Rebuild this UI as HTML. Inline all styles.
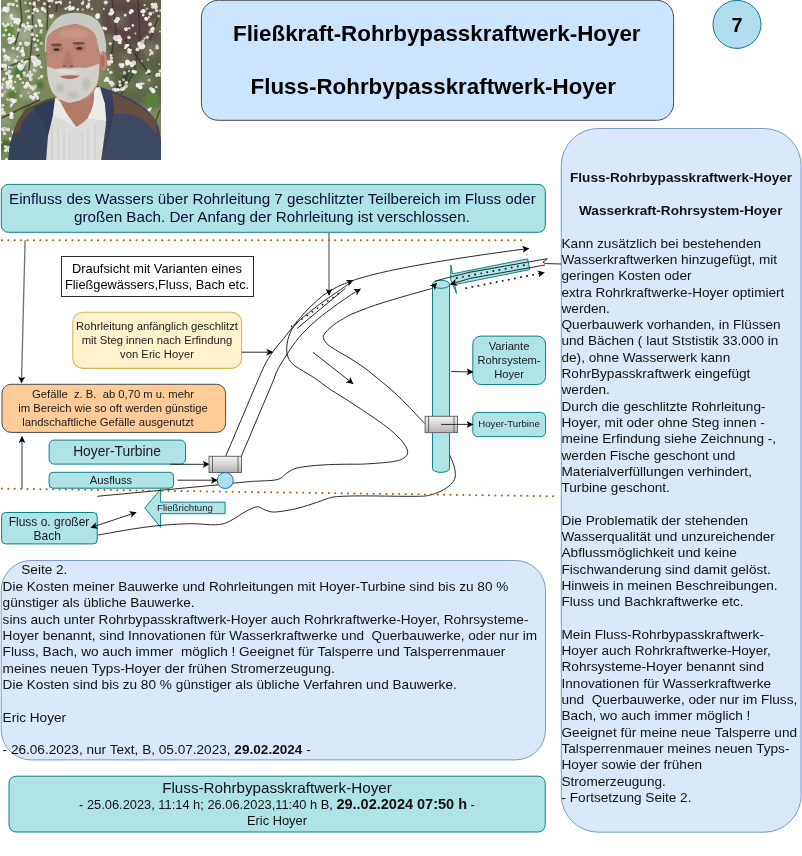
<!DOCTYPE html>
<html><head><meta charset="utf-8">
<style>
html,body{margin:0;padding:0;background:#fff;}
body{width:802px;height:856px;overflow:hidden;position:relative;}
svg{position:absolute;left:0;top:0;will-change:transform;}
text{font-family:"Liberation Sans",sans-serif;}
.pre{white-space:pre;}
</style></head>
<body>
<svg width="802" height="856" viewBox="0 0 802 856">
<defs>
<linearGradient id="tg" x1="0" y1="0" x2="0" y2="1">
<stop offset="0" stop-color="#f5f5f5"/><stop offset="1" stop-color="#b3b3b3"/>
</linearGradient>
<marker id="ah" viewBox="0 0 10 10" refX="9" refY="5" markerWidth="7" markerHeight="7" markerUnits="userSpaceOnUse" orient="auto-start-reverse">
<path d="M0,0 L10,5 L0,10 L2.5,5 Z" fill="#000"/>
</marker>
</defs>

<!-- PHOTO -->
<g id="photo"><defs><clipPath id="pc"><rect x="1" y="0" width="160" height="160"/></clipPath><filter id="b05" x="-20%" y="-20%" width="140%" height="140%"><feGaussianBlur stdDeviation="0.5"/></filter><filter id="b1" x="-20%" y="-20%" width="140%" height="140%"><feGaussianBlur stdDeviation="0.8"/></filter><filter id="b2" x="-20%" y="-20%" width="140%" height="140%"><feGaussianBlur stdDeviation="1.6"/></filter><filter id="b3" x="-20%" y="-20%" width="140%" height="140%"><feGaussianBlur stdDeviation="4"/></filter></defs>
<g clip-path="url(#pc)">
<rect x="1" y="0" width="160" height="160" fill="#7a8a5c"/>
<path d="M96,-5 H166 V105 H125 Q104,60 96,-5 Z" fill="#5e564a" filter="url(#b3)"/>
<path d="M30,-5 H100 V14 H30 Z" fill="#62584c" filter="url(#b3)"/>
<ellipse cx="128" cy="22" rx="26" ry="22" fill="#5c4446" filter="url(#b3)"/>
<ellipse cx="138" cy="82" rx="26" ry="18" fill="#5d6c44" filter="url(#b3)"/>
<circle cx="10" cy="20" r="9" fill="#a8b094" filter="url(#b3)"/>
<circle cx="25" cy="35" r="8" fill="#a8b094" filter="url(#b3)"/>
<circle cx="12" cy="60" r="8" fill="#a8b094" filter="url(#b3)"/>
<circle cx="30" cy="70" r="7" fill="#a8b094" filter="url(#b3)"/>
<circle cx="8" cy="90" r="7" fill="#a8b094" filter="url(#b3)"/>
<circle cx="28" cy="92" r="6" fill="#a8b094" filter="url(#b3)"/>
<circle cx="5" cy="120" r="5" fill="#a8b094" filter="url(#b3)"/>
<circle cx="40" cy="15" r="6" fill="#a8b094" filter="url(#b3)"/>
<circle cx="120" cy="20" r="6" fill="#7c8064" filter="url(#b3)"/>
<circle cx="150" cy="50" r="7" fill="#7c8064" filter="url(#b3)"/>
<circle cx="125" cy="60" r="6" fill="#7c8064" filter="url(#b3)"/>
<circle cx="145" cy="80" r="6" fill="#7c8064" filter="url(#b3)"/>
<circle cx="110" cy="40" r="5" fill="#7c8064" filter="url(#b3)"/>
<circle cx="155" cy="25" r="5" fill="#7c8064" filter="url(#b3)"/>
<circle cx="130" cy="85" r="5" fill="#7c8064" filter="url(#b3)"/>
<circle cx="8" cy="30" r="6" fill="#5c8a3a" filter="url(#b2)"/>
<circle cx="20" cy="72" r="6" fill="#4c7434" filter="url(#b2)"/>
<circle cx="30" cy="112" r="7" fill="#4a6c34" filter="url(#b2)"/>
<circle cx="12" cy="95" r="5" fill="#527a38" filter="url(#b2)"/>
<circle cx="152" cy="100" r="8" fill="#56803a" filter="url(#b2)"/>
<circle cx="124" cy="78" r="6" fill="#4e6e3a" filter="url(#b2)"/>
<circle cx="38" cy="40" r="5" fill="#587a3e" filter="url(#b2)"/>
<circle cx="6" cy="146" r="6" fill="#466a32" filter="url(#b2)"/>
<circle cx="150" cy="62" r="5" fill="#55683c" filter="url(#b2)"/>
<circle cx="140" cy="125" r="6" fill="#5a7d3c" filter="url(#b2)"/>
<circle cx="115" cy="100" r="5" fill="#4d6a38" filter="url(#b2)"/>
<circle cx="22" cy="130" r="4" fill="#4a6a34" filter="url(#b2)"/>
<circle cx="40" cy="85" r="4" fill="#4f7438" filter="url(#b2)"/>
<g stroke="#3a3226" fill="none" stroke-width="1.4" opacity="0.8" filter="url(#b05)"><path d="M138,0 L140,40 L134,72 L118,100"/><path d="M33,0 L32,40 L28,80"/><path d="M48,2 L47,30"/><path d="M0,70 L20,62 L40,55"/><path d="M2,118 L22,108 L40,100"/><path d="M150,40 L158,18"/><path d="M112,0 L116,30 L110,62"/><path d="M58,0 L56,12"/><path d="M20,0 L22,20 L15,45"/><path d="M148,140 L160,110"/><path d="M125,40 L150,75"/></g>
<path d="M128,70 Q124,85 110,95" stroke="#3f3a2a" stroke-width="5" fill="none" filter="url(#b1)"/>
<circle cx="6.7" cy="9.3" r="2.6" fill="#f6f4f2" filter="url(#b05)"/>
<circle cx="6.7" cy="10.9" r="1.8" fill="#f6f4f2" filter="url(#b05)"/>
<circle cx="7.7" cy="10.6" r="1.7" fill="#dedcd8" filter="url(#b05)"/>
<circle cx="5.1" cy="9.2" r="2.6" fill="#f2f2ee" filter="url(#b05)"/>
<circle cx="7.5" cy="8.4" r="2.1" fill="#e8e6e2" filter="url(#b05)"/>
<circle cx="17.7" cy="23.0" r="1.8" fill="#f2f2ee" filter="url(#b05)"/>
<circle cx="15.1" cy="19.5" r="1.8" fill="#f6f4f2" filter="url(#b05)"/>
<circle cx="16.0" cy="21.5" r="2.0" fill="#e8e6e2" filter="url(#b05)"/>
<circle cx="17.8" cy="21.0" r="2.6" fill="#f6f4f2" filter="url(#b05)"/>
<circle cx="17.9" cy="20.4" r="2.4" fill="#f2f2ee" filter="url(#b05)"/>
<circle cx="27.7" cy="26.3" r="1.2" fill="#dedcd8" filter="url(#b05)"/>
<circle cx="25.3" cy="27.2" r="1.1" fill="#f2f2ee" filter="url(#b05)"/>
<circle cx="28.2" cy="26.6" r="1.8" fill="#f2f2ee" filter="url(#b05)"/>
<circle cx="26.0" cy="28.5" r="1.1" fill="#f6f4f2" filter="url(#b05)"/>
<circle cx="28.7" cy="26.6" r="1.1" fill="#e8e6e2" filter="url(#b05)"/>
<circle cx="37.0" cy="9.2" r="1.1" fill="#dedcd8" filter="url(#b05)"/>
<circle cx="34.3" cy="9.7" r="1.7" fill="#e8e6e2" filter="url(#b05)"/>
<circle cx="35.1" cy="8.6" r="1.1" fill="#f6f4f2" filter="url(#b05)"/>
<circle cx="34.8" cy="10.2" r="1.4" fill="#e8e6e2" filter="url(#b05)"/>
<circle cx="37.7" cy="11.0" r="1.4" fill="#f6f4f2" filter="url(#b05)"/>
<circle cx="42.8" cy="9.8" r="1.0" fill="#dedcd8" filter="url(#b05)"/>
<circle cx="45.1" cy="11.4" r="1.2" fill="#f2f2ee" filter="url(#b05)"/>
<circle cx="43.1" cy="9.7" r="1.4" fill="#f2f2ee" filter="url(#b05)"/>
<circle cx="42.6" cy="8.9" r="1.2" fill="#f2f2ee" filter="url(#b05)"/>
<circle cx="44.8" cy="9.5" r="1.1" fill="#f2f2ee" filter="url(#b05)"/>
<circle cx="9.7" cy="39.4" r="2.3" fill="#f2f2ee" filter="url(#b05)"/>
<circle cx="12.5" cy="40.3" r="2.1" fill="#f6f4f2" filter="url(#b05)"/>
<circle cx="13.8" cy="39.0" r="2.0" fill="#e8e6e2" filter="url(#b05)"/>
<circle cx="11.0" cy="39.5" r="2.3" fill="#e8e6e2" filter="url(#b05)"/>
<circle cx="10.2" cy="41.7" r="2.2" fill="#f6f4f2" filter="url(#b05)"/>
<circle cx="28.4" cy="43.4" r="1.4" fill="#f2f2ee" filter="url(#b05)"/>
<circle cx="25.6" cy="43.0" r="1.2" fill="#f6f4f2" filter="url(#b05)"/>
<circle cx="26.1" cy="44.2" r="1.5" fill="#dedcd8" filter="url(#b05)"/>
<circle cx="27.1" cy="44.5" r="1.8" fill="#e8e6e2" filter="url(#b05)"/>
<circle cx="26.0" cy="43.2" r="1.7" fill="#f2f2ee" filter="url(#b05)"/>
<circle cx="35.4" cy="64.0" r="2.4" fill="#f2f2ee" filter="url(#b05)"/>
<circle cx="33.9" cy="60.4" r="2.5" fill="#f2f2ee" filter="url(#b05)"/>
<circle cx="34.7" cy="60.1" r="3.0" fill="#e8e6e2" filter="url(#b05)"/>
<circle cx="34.1" cy="58.4" r="2.8" fill="#dedcd8" filter="url(#b05)"/>
<circle cx="38.1" cy="62.4" r="3.0" fill="#e8e6e2" filter="url(#b05)"/>
<circle cx="7.4" cy="57.8" r="1.6" fill="#dedcd8" filter="url(#b05)"/>
<circle cx="7.8" cy="57.9" r="1.2" fill="#f2f2ee" filter="url(#b05)"/>
<circle cx="6.9" cy="57.0" r="1.5" fill="#f2f2ee" filter="url(#b05)"/>
<circle cx="5.2" cy="56.2" r="1.9" fill="#e8e6e2" filter="url(#b05)"/>
<circle cx="8.2" cy="57.7" r="1.5" fill="#f6f4f2" filter="url(#b05)"/>
<circle cx="21.9" cy="67.8" r="1.8" fill="#f2f2ee" filter="url(#b05)"/>
<circle cx="21.7" cy="66.3" r="2.0" fill="#f6f4f2" filter="url(#b05)"/>
<circle cx="19.4" cy="63.7" r="1.5" fill="#f2f2ee" filter="url(#b05)"/>
<circle cx="20.7" cy="68.4" r="2.3" fill="#dedcd8" filter="url(#b05)"/>
<circle cx="19.5" cy="67.1" r="2.0" fill="#f6f4f2" filter="url(#b05)"/>
<circle cx="9.8" cy="77.2" r="1.7" fill="#f2f2ee" filter="url(#b05)"/>
<circle cx="9.2" cy="75.3" r="1.2" fill="#f2f2ee" filter="url(#b05)"/>
<circle cx="10.0" cy="77.5" r="2.0" fill="#dedcd8" filter="url(#b05)"/>
<circle cx="11.7" cy="76.4" r="1.4" fill="#e8e6e2" filter="url(#b05)"/>
<circle cx="10.1" cy="78.1" r="1.5" fill="#f6f4f2" filter="url(#b05)"/>
<circle cx="29.0" cy="75.1" r="1.4" fill="#dedcd8" filter="url(#b05)"/>
<circle cx="27.9" cy="75.8" r="1.7" fill="#e8e6e2" filter="url(#b05)"/>
<circle cx="30.4" cy="75.6" r="1.5" fill="#dedcd8" filter="url(#b05)"/>
<circle cx="28.0" cy="74.7" r="1.3" fill="#f2f2ee" filter="url(#b05)"/>
<circle cx="29.8" cy="77.6" r="1.3" fill="#e8e6e2" filter="url(#b05)"/>
<circle cx="50.6" cy="15.9" r="1.7" fill="#f6f4f2" filter="url(#b05)"/>
<circle cx="51.6" cy="16.1" r="1.6" fill="#f6f4f2" filter="url(#b05)"/>
<circle cx="51.4" cy="17.2" r="1.3" fill="#f2f2ee" filter="url(#b05)"/>
<circle cx="52.6" cy="15.2" r="1.3" fill="#f2f2ee" filter="url(#b05)"/>
<circle cx="52.5" cy="15.7" r="1.2" fill="#dedcd8" filter="url(#b05)"/>
<circle cx="69.9" cy="6.5" r="1.3" fill="#f2f2ee" filter="url(#b05)"/>
<circle cx="70.8" cy="8.5" r="1.8" fill="#dedcd8" filter="url(#b05)"/>
<circle cx="72.9" cy="8.8" r="1.4" fill="#f6f4f2" filter="url(#b05)"/>
<circle cx="70.0" cy="8.9" r="1.9" fill="#f2f2ee" filter="url(#b05)"/>
<circle cx="69.7" cy="7.0" r="1.5" fill="#e8e6e2" filter="url(#b05)"/>
<circle cx="97.5" cy="16.4" r="2.3" fill="#f2f2ee" filter="url(#b05)"/>
<circle cx="97.6" cy="16.9" r="1.8" fill="#f6f4f2" filter="url(#b05)"/>
<circle cx="97.8" cy="15.6" r="2.3" fill="#f6f4f2" filter="url(#b05)"/>
<circle cx="98.2" cy="15.7" r="1.9" fill="#dedcd8" filter="url(#b05)"/>
<circle cx="97.8" cy="15.7" r="1.6" fill="#f2f2ee" filter="url(#b05)"/>
<circle cx="110.8" cy="13.7" r="2.1" fill="#dedcd8" filter="url(#b05)"/>
<circle cx="112.2" cy="13.2" r="1.5" fill="#f2f2ee" filter="url(#b05)"/>
<circle cx="111.4" cy="10.2" r="1.6" fill="#f6f4f2" filter="url(#b05)"/>
<circle cx="113.1" cy="11.9" r="1.2" fill="#f2f2ee" filter="url(#b05)"/>
<circle cx="111.7" cy="10.0" r="1.7" fill="#e8e6e2" filter="url(#b05)"/>
<circle cx="115.9" cy="21.1" r="2.0" fill="#f6f4f2" filter="url(#b05)"/>
<circle cx="117.9" cy="19.0" r="2.1" fill="#f2f2ee" filter="url(#b05)"/>
<circle cx="117.1" cy="18.7" r="1.7" fill="#e8e6e2" filter="url(#b05)"/>
<circle cx="116.1" cy="20.4" r="1.7" fill="#dedcd8" filter="url(#b05)"/>
<circle cx="116.7" cy="20.9" r="2.0" fill="#e8e6e2" filter="url(#b05)"/>
<circle cx="142.2" cy="11.5" r="1.7" fill="#dedcd8" filter="url(#b05)"/>
<circle cx="143.3" cy="11.7" r="1.7" fill="#f2f2ee" filter="url(#b05)"/>
<circle cx="143.4" cy="11.0" r="2.1" fill="#f6f4f2" filter="url(#b05)"/>
<circle cx="143.2" cy="15.1" r="1.3" fill="#f2f2ee" filter="url(#b05)"/>
<circle cx="143.8" cy="11.2" r="1.7" fill="#f6f4f2" filter="url(#b05)"/>
<circle cx="120.0" cy="42.4" r="1.8" fill="#e8e6e2" filter="url(#b05)"/>
<circle cx="117.9" cy="39.2" r="1.8" fill="#f6f4f2" filter="url(#b05)"/>
<circle cx="118.1" cy="39.1" r="1.8" fill="#f2f2ee" filter="url(#b05)"/>
<circle cx="120.0" cy="39.2" r="2.2" fill="#f2f2ee" filter="url(#b05)"/>
<circle cx="115.8" cy="39.3" r="1.4" fill="#dedcd8" filter="url(#b05)"/>
<circle cx="139.9" cy="44.1" r="2.5" fill="#f2f2ee" filter="url(#b05)"/>
<circle cx="141.0" cy="45.5" r="2.8" fill="#dedcd8" filter="url(#b05)"/>
<circle cx="142.3" cy="46.2" r="2.8" fill="#f2f2ee" filter="url(#b05)"/>
<circle cx="140.3" cy="44.5" r="2.4" fill="#e8e6e2" filter="url(#b05)"/>
<circle cx="141.2" cy="47.2" r="2.4" fill="#e8e6e2" filter="url(#b05)"/>
<circle cx="130.1" cy="52.3" r="1.5" fill="#e8e6e2" filter="url(#b05)"/>
<circle cx="129.0" cy="51.9" r="1.7" fill="#e8e6e2" filter="url(#b05)"/>
<circle cx="129.3" cy="50.3" r="1.7" fill="#e8e6e2" filter="url(#b05)"/>
<circle cx="131.0" cy="49.9" r="1.1" fill="#e8e6e2" filter="url(#b05)"/>
<circle cx="128.7" cy="49.5" r="1.3" fill="#f6f4f2" filter="url(#b05)"/>
<circle cx="111.4" cy="61.7" r="1.9" fill="#e8e6e2" filter="url(#b05)"/>
<circle cx="108.7" cy="62.5" r="1.9" fill="#f2f2ee" filter="url(#b05)"/>
<circle cx="108.7" cy="62.8" r="2.0" fill="#dedcd8" filter="url(#b05)"/>
<circle cx="108.4" cy="62.0" r="1.9" fill="#e8e6e2" filter="url(#b05)"/>
<circle cx="111.3" cy="61.9" r="1.2" fill="#f6f4f2" filter="url(#b05)"/>
<circle cx="127.1" cy="61.3" r="1.8" fill="#e8e6e2" filter="url(#b05)"/>
<circle cx="131.6" cy="65.3" r="1.7" fill="#f2f2ee" filter="url(#b05)"/>
<circle cx="127.0" cy="64.0" r="1.7" fill="#f2f2ee" filter="url(#b05)"/>
<circle cx="128.1" cy="62.8" r="2.2" fill="#f6f4f2" filter="url(#b05)"/>
<circle cx="127.4" cy="62.3" r="2.3" fill="#f2f2ee" filter="url(#b05)"/>
<circle cx="135.2" cy="71.9" r="1.4" fill="#dedcd8" filter="url(#b05)"/>
<circle cx="133.7" cy="71.9" r="1.2" fill="#f2f2ee" filter="url(#b05)"/>
<circle cx="133.4" cy="71.5" r="1.7" fill="#f6f4f2" filter="url(#b05)"/>
<circle cx="134.3" cy="71.9" r="1.5" fill="#dedcd8" filter="url(#b05)"/>
<circle cx="135.1" cy="72.1" r="1.7" fill="#e8e6e2" filter="url(#b05)"/>
<circle cx="155.3" cy="4.6" r="2.0" fill="#dedcd8" filter="url(#b05)"/>
<circle cx="155.1" cy="6.1" r="1.6" fill="#e8e6e2" filter="url(#b05)"/>
<circle cx="152.2" cy="4.3" r="1.6" fill="#f2f2ee" filter="url(#b05)"/>
<circle cx="155.6" cy="7.1" r="2.0" fill="#f2f2ee" filter="url(#b05)"/>
<circle cx="152.9" cy="6.9" r="1.8" fill="#dedcd8" filter="url(#b05)"/>
<circle cx="7.3" cy="82.4" r="2.0" fill="#f2f2ee" filter="url(#b05)"/>
<circle cx="8.3" cy="86.0" r="2.6" fill="#f2f2ee" filter="url(#b05)"/>
<circle cx="10.6" cy="85.9" r="1.8" fill="#f2f2ee" filter="url(#b05)"/>
<circle cx="10.4" cy="81.5" r="2.3" fill="#f2f2ee" filter="url(#b05)"/>
<circle cx="10.6" cy="83.9" r="1.8" fill="#dedcd8" filter="url(#b05)"/>
<circle cx="25.0" cy="86.7" r="1.7" fill="#f6f4f2" filter="url(#b05)"/>
<circle cx="28.0" cy="85.3" r="2.1" fill="#f6f4f2" filter="url(#b05)"/>
<circle cx="27.3" cy="83.2" r="1.7" fill="#f2f2ee" filter="url(#b05)"/>
<circle cx="25.5" cy="86.8" r="1.6" fill="#e8e6e2" filter="url(#b05)"/>
<circle cx="27.5" cy="85.2" r="1.7" fill="#f6f4f2" filter="url(#b05)"/>
<circle cx="15.1" cy="100.6" r="1.9" fill="#dedcd8" filter="url(#b05)"/>
<circle cx="12.4" cy="100.0" r="2.1" fill="#dedcd8" filter="url(#b05)"/>
<circle cx="13.8" cy="102.2" r="1.4" fill="#e8e6e2" filter="url(#b05)"/>
<circle cx="13.4" cy="101.6" r="1.8" fill="#f6f4f2" filter="url(#b05)"/>
<circle cx="10.9" cy="100.1" r="1.8" fill="#dedcd8" filter="url(#b05)"/>
<circle cx="33.0" cy="97.9" r="1.8" fill="#f6f4f2" filter="url(#b05)"/>
<circle cx="33.8" cy="97.2" r="1.4" fill="#f2f2ee" filter="url(#b05)"/>
<circle cx="37.1" cy="97.1" r="1.9" fill="#e8e6e2" filter="url(#b05)"/>
<circle cx="35.5" cy="94.2" r="2.0" fill="#f6f4f2" filter="url(#b05)"/>
<circle cx="33.2" cy="97.7" r="1.8" fill="#e8e6e2" filter="url(#b05)"/>
<circle cx="1.6" cy="112.8" r="1.6" fill="#f6f4f2" filter="url(#b05)"/>
<circle cx="3.4" cy="113.5" r="1.6" fill="#dedcd8" filter="url(#b05)"/>
<circle cx="4.0" cy="113.1" r="1.8" fill="#dedcd8" filter="url(#b05)"/>
<circle cx="3.8" cy="112.1" r="1.1" fill="#dedcd8" filter="url(#b05)"/>
<circle cx="4.0" cy="113.4" r="1.3" fill="#dedcd8" filter="url(#b05)"/>
<circle cx="11.5" cy="117.1" r="2.1" fill="#e8e6e2" filter="url(#b05)"/>
<circle cx="11.6" cy="117.2" r="1.6" fill="#e8e6e2" filter="url(#b05)"/>
<circle cx="11.0" cy="116.7" r="1.6" fill="#f2f2ee" filter="url(#b05)"/>
<circle cx="11.6" cy="113.6" r="1.7" fill="#f2f2ee" filter="url(#b05)"/>
<circle cx="11.6" cy="114.1" r="1.9" fill="#f2f2ee" filter="url(#b05)"/>
<circle cx="3.9" cy="130.5" r="1.2" fill="#e8e6e2" filter="url(#b05)"/>
<circle cx="3.5" cy="128.5" r="1.4" fill="#e8e6e2" filter="url(#b05)"/>
<circle cx="2.4" cy="129.0" r="1.2" fill="#f2f2ee" filter="url(#b05)"/>
<circle cx="4.1" cy="128.8" r="1.7" fill="#e8e6e2" filter="url(#b05)"/>
<circle cx="2.8" cy="129.9" r="1.3" fill="#e8e6e2" filter="url(#b05)"/>
<circle cx="13.6" cy="133.5" r="1.5" fill="#dedcd8" filter="url(#b05)"/>
<circle cx="13.4" cy="133.8" r="1.4" fill="#e8e6e2" filter="url(#b05)"/>
<circle cx="13.8" cy="132.6" r="0.9" fill="#dedcd8" filter="url(#b05)"/>
<circle cx="12.7" cy="131.7" r="1.2" fill="#f6f4f2" filter="url(#b05)"/>
<circle cx="14.9" cy="132.9" r="1.4" fill="#f2f2ee" filter="url(#b05)"/>
<circle cx="110.2" cy="82.8" r="1.8" fill="#f2f2ee" filter="url(#b05)"/>
<circle cx="112.8" cy="84.0" r="1.9" fill="#dedcd8" filter="url(#b05)"/>
<circle cx="111.1" cy="82.5" r="1.5" fill="#dedcd8" filter="url(#b05)"/>
<circle cx="111.4" cy="82.4" r="1.8" fill="#dedcd8" filter="url(#b05)"/>
<circle cx="111.7" cy="85.3" r="1.5" fill="#dedcd8" filter="url(#b05)"/>
<circle cx="122.0" cy="89.7" r="1.6" fill="#e8e6e2" filter="url(#b05)"/>
<circle cx="121.5" cy="89.2" r="1.1" fill="#f6f4f2" filter="url(#b05)"/>
<circle cx="123.3" cy="89.1" r="1.6" fill="#dedcd8" filter="url(#b05)"/>
<circle cx="124.1" cy="88.1" r="1.7" fill="#e8e6e2" filter="url(#b05)"/>
<circle cx="121.8" cy="88.9" r="1.7" fill="#dedcd8" filter="url(#b05)"/>
<circle cx="141.5" cy="83.7" r="1.5" fill="#e8e6e2" filter="url(#b05)"/>
<circle cx="140.3" cy="87.2" r="2.1" fill="#f6f4f2" filter="url(#b05)"/>
<circle cx="137.9" cy="85.2" r="2.2" fill="#f2f2ee" filter="url(#b05)"/>
<circle cx="139.2" cy="83.9" r="1.5" fill="#dedcd8" filter="url(#b05)"/>
<circle cx="138.0" cy="85.6" r="1.5" fill="#f6f4f2" filter="url(#b05)"/>
<circle cx="150.9" cy="88.8" r="1.9" fill="#dedcd8" filter="url(#b05)"/>
<circle cx="153.1" cy="89.6" r="1.5" fill="#dedcd8" filter="url(#b05)"/>
<circle cx="152.7" cy="90.0" r="1.7" fill="#f2f2ee" filter="url(#b05)"/>
<circle cx="152.9" cy="91.7" r="1.6" fill="#dedcd8" filter="url(#b05)"/>
<circle cx="153.5" cy="91.3" r="2.0" fill="#f6f4f2" filter="url(#b05)"/>
<circle cx="159.4" cy="75.4" r="1.2" fill="#f2f2ee" filter="url(#b05)"/>
<circle cx="158.9" cy="74.8" r="1.1" fill="#e8e6e2" filter="url(#b05)"/>
<circle cx="157.2" cy="74.0" r="1.3" fill="#e8e6e2" filter="url(#b05)"/>
<circle cx="157.5" cy="74.7" r="1.2" fill="#dedcd8" filter="url(#b05)"/>
<circle cx="159.4" cy="73.7" r="1.1" fill="#f2f2ee" filter="url(#b05)"/>
<circle cx="125.4" cy="29.0" r="1.4" fill="#f2f2ee" filter="url(#b05)"/>
<circle cx="126.8" cy="28.6" r="1.2" fill="#f2f2ee" filter="url(#b05)"/>
<circle cx="125.4" cy="29.1" r="1.1" fill="#e8e6e2" filter="url(#b05)"/>
<circle cx="126.3" cy="29.9" r="1.2" fill="#f6f4f2" filter="url(#b05)"/>
<circle cx="125.1" cy="29.3" r="1.0" fill="#dedcd8" filter="url(#b05)"/>
<circle cx="152.5" cy="31.6" r="1.5" fill="#dedcd8" filter="url(#b05)"/>
<circle cx="151.9" cy="29.6" r="1.8" fill="#f2f2ee" filter="url(#b05)"/>
<circle cx="151.9" cy="29.0" r="1.1" fill="#e8e6e2" filter="url(#b05)"/>
<circle cx="153.1" cy="29.6" r="1.4" fill="#dedcd8" filter="url(#b05)"/>
<circle cx="153.0" cy="28.4" r="1.7" fill="#f2f2ee" filter="url(#b05)"/>
<circle cx="89.1" cy="6.2" r="1.2" fill="#e8e6e2" filter="url(#b05)"/>
<circle cx="88.6" cy="5.3" r="1.0" fill="#e8e6e2" filter="url(#b05)"/>
<circle cx="88.8" cy="3.9" r="1.4" fill="#e8e6e2" filter="url(#b05)"/>
<circle cx="88.4" cy="6.5" r="1.0" fill="#f2f2ee" filter="url(#b05)"/>
<circle cx="87.0" cy="5.8" r="0.9" fill="#e8e6e2" filter="url(#b05)"/>
<circle cx="61.0" cy="1.7" r="1.0" fill="#f2f2ee" filter="url(#b05)"/>
<circle cx="61.2" cy="3.6" r="0.9" fill="#dedcd8" filter="url(#b05)"/>
<circle cx="58.6" cy="2.1" r="1.0" fill="#f2f2ee" filter="url(#b05)"/>
<circle cx="60.8" cy="2.8" r="0.9" fill="#f6f4f2" filter="url(#b05)"/>
<circle cx="60.1" cy="2.0" r="1.4" fill="#dedcd8" filter="url(#b05)"/>
<circle cx="149.4" cy="109.7" r="1.2" fill="#f6f4f2" filter="url(#b05)"/>
<circle cx="150.5" cy="108.7" r="0.9" fill="#e8e6e2" filter="url(#b05)"/>
<circle cx="148.8" cy="109.7" r="1.2" fill="#f2f2ee" filter="url(#b05)"/>
<circle cx="150.5" cy="108.5" r="1.1" fill="#f6f4f2" filter="url(#b05)"/>
<circle cx="149.2" cy="110.2" r="1.2" fill="#f2f2ee" filter="url(#b05)"/>
<circle cx="9.1" cy="151.0" r="1.3" fill="#e8e6e2" filter="url(#b05)"/>
<circle cx="7.4" cy="149.6" r="1.2" fill="#dedcd8" filter="url(#b05)"/>
<circle cx="9.4" cy="150.8" r="1.2" fill="#f2f2ee" filter="url(#b05)"/>
<circle cx="7.3" cy="149.1" r="1.3" fill="#dedcd8" filter="url(#b05)"/>
<circle cx="7.4" cy="149.3" r="1.2" fill="#dedcd8" filter="url(#b05)"/>
<circle cx="39.8" cy="21.6" r="0.9" fill="#f2f2ee" filter="url(#b05)"/>
<circle cx="38.9" cy="22.4" r="1.0" fill="#e8e6e2" filter="url(#b05)"/>
<circle cx="39.7" cy="23.0" r="1.2" fill="#f2f2ee" filter="url(#b05)"/>
<circle cx="38.8" cy="20.6" r="1.5" fill="#f6f4f2" filter="url(#b05)"/>
<circle cx="39.7" cy="20.7" r="1.5" fill="#f6f4f2" filter="url(#b05)"/>
<circle cx="5.5" cy="64.7" r="1.2" fill="#e8e6e2" filter="url(#b05)"/>
<circle cx="5.2" cy="65.6" r="1.3" fill="#f6f4f2" filter="url(#b05)"/>
<circle cx="4.4" cy="66.8" r="1.5" fill="#dedcd8" filter="url(#b05)"/>
<circle cx="5.7" cy="67.0" r="1.5" fill="#f2f2ee" filter="url(#b05)"/>
<circle cx="3.1" cy="64.9" r="1.3" fill="#f6f4f2" filter="url(#b05)"/>
<circle cx="20.6" cy="51.6" r="1.4" fill="#dedcd8" filter="url(#b05)"/>
<circle cx="23.2" cy="52.4" r="1.2" fill="#dedcd8" filter="url(#b05)"/>
<circle cx="22.2" cy="51.5" r="1.4" fill="#e8e6e2" filter="url(#b05)"/>
<circle cx="22.3" cy="50.9" r="1.8" fill="#e8e6e2" filter="url(#b05)"/>
<circle cx="22.2" cy="50.3" r="1.5" fill="#f2f2ee" filter="url(#b05)"/>
<circle cx="115.3" cy="36.9" r="1.8" fill="#dedcd8" filter="url(#b05)"/>
<circle cx="116.2" cy="39.1" r="1.8" fill="#f6f4f2" filter="url(#b05)"/>
<circle cx="118.8" cy="36.8" r="2.1" fill="#e8e6e2" filter="url(#b05)"/>
<circle cx="118.9" cy="37.2" r="2.0" fill="#dedcd8" filter="url(#b05)"/>
<circle cx="115.4" cy="38.2" r="2.3" fill="#dedcd8" filter="url(#b05)"/>
<circle cx="131.4" cy="10.6" r="1.7" fill="#dedcd8" filter="url(#b05)"/>
<circle cx="131.7" cy="11.5" r="1.6" fill="#dedcd8" filter="url(#b05)"/>
<circle cx="132.2" cy="10.9" r="1.5" fill="#f2f2ee" filter="url(#b05)"/>
<circle cx="130.8" cy="11.7" r="1.6" fill="#e8e6e2" filter="url(#b05)"/>
<circle cx="130.3" cy="12.6" r="1.6" fill="#f6f4f2" filter="url(#b05)"/>
<circle cx="105.4" cy="28.5" r="1.6" fill="#e8e6e2" filter="url(#b05)"/>
<circle cx="103.9" cy="27.9" r="1.2" fill="#f6f4f2" filter="url(#b05)"/>
<circle cx="103.6" cy="27.7" r="1.3" fill="#e8e6e2" filter="url(#b05)"/>
<circle cx="104.1" cy="28.2" r="1.3" fill="#f2f2ee" filter="url(#b05)"/>
<circle cx="105.8" cy="29.0" r="1.4" fill="#f6f4f2" filter="url(#b05)"/>
<circle cx="121.4" cy="65.9" r="1.6" fill="#f6f4f2" filter="url(#b05)"/>
<circle cx="122.1" cy="65.9" r="2.1" fill="#f6f4f2" filter="url(#b05)"/>
<circle cx="122.4" cy="64.4" r="1.3" fill="#dedcd8" filter="url(#b05)"/>
<circle cx="121.1" cy="65.7" r="2.0" fill="#dedcd8" filter="url(#b05)"/>
<circle cx="122.7" cy="65.1" r="1.8" fill="#f6f4f2" filter="url(#b05)"/>
<circle cx="134.0" cy="62.4" r="1.9" fill="#dedcd8" filter="url(#b05)"/>
<circle cx="134.6" cy="63.6" r="1.4" fill="#f6f4f2" filter="url(#b05)"/>
<circle cx="131.9" cy="63.6" r="2.1" fill="#f6f4f2" filter="url(#b05)"/>
<circle cx="133.8" cy="62.1" r="1.4" fill="#dedcd8" filter="url(#b05)"/>
<circle cx="133.7" cy="63.8" r="2.0" fill="#dedcd8" filter="url(#b05)"/>
<circle cx="118.3" cy="89.7" r="1.7" fill="#e8e6e2" filter="url(#b05)"/>
<circle cx="117.5" cy="89.7" r="1.1" fill="#f2f2ee" filter="url(#b05)"/>
<circle cx="115.6" cy="91.1" r="1.1" fill="#f6f4f2" filter="url(#b05)"/>
<circle cx="115.2" cy="89.1" r="1.3" fill="#dedcd8" filter="url(#b05)"/>
<circle cx="115.8" cy="89.8" r="1.4" fill="#f6f4f2" filter="url(#b05)"/>
<circle cx="148.7" cy="70.7" r="1.2" fill="#dedcd8" filter="url(#b05)"/>
<circle cx="148.3" cy="71.4" r="1.3" fill="#f6f4f2" filter="url(#b05)"/>
<circle cx="148.7" cy="71.0" r="1.6" fill="#e8e6e2" filter="url(#b05)"/>
<circle cx="148.9" cy="71.3" r="1.6" fill="#f2f2ee" filter="url(#b05)"/>
<circle cx="148.9" cy="71.2" r="1.3" fill="#f6f4f2" filter="url(#b05)"/>
<circle cx="105.3" cy="80.5" r="1.6" fill="#e8e6e2" filter="url(#b05)"/>
<circle cx="107.1" cy="79.1" r="1.8" fill="#f2f2ee" filter="url(#b05)"/>
<circle cx="107.5" cy="79.3" r="1.7" fill="#dedcd8" filter="url(#b05)"/>
<circle cx="108.3" cy="80.8" r="1.2" fill="#f6f4f2" filter="url(#b05)"/>
<circle cx="106.7" cy="78.8" r="1.7" fill="#f2f2ee" filter="url(#b05)"/>
<circle cx="146.8" cy="18.9" r="1.2" fill="#e8e6e2" filter="url(#b05)"/>
<circle cx="146.0" cy="19.3" r="1.3" fill="#f2f2ee" filter="url(#b05)"/>
<circle cx="146.3" cy="19.0" r="1.3" fill="#e8e6e2" filter="url(#b05)"/>
<circle cx="146.6" cy="19.2" r="1.5" fill="#f2f2ee" filter="url(#b05)"/>
<circle cx="145.9" cy="18.5" r="1.7" fill="#f2f2ee" filter="url(#b05)"/>
<circle cx="126.1" cy="45.4" r="1.5" fill="#dedcd8" filter="url(#b05)"/>
<circle cx="126.1" cy="46.7" r="1.5" fill="#e8e6e2" filter="url(#b05)"/>
<circle cx="125.2" cy="47.9" r="1.2" fill="#dedcd8" filter="url(#b05)"/>
<circle cx="126.8" cy="45.3" r="1.6" fill="#e8e6e2" filter="url(#b05)"/>
<circle cx="127.8" cy="45.3" r="1.4" fill="#f6f4f2" filter="url(#b05)"/>
<circle cx="1.4" cy="142.6" r="1.0" fill="#f0f0ec" opacity="0.9"/>
<circle cx="126.3" cy="82.7" r="1.8" fill="#eae8e4" opacity="0.9"/>
<circle cx="120.1" cy="85.1" r="1.7" fill="#f0f0ec" opacity="0.9"/>
<circle cx="38.8" cy="78.3" r="1.1" fill="#eae8e4" opacity="0.9"/>
<circle cx="9.4" cy="71.7" r="1.9" fill="#e6e4e0" opacity="0.9"/>
<circle cx="25.3" cy="2.8" r="1.4" fill="#c8ccc0" opacity="0.9"/>
<circle cx="123.4" cy="79.7" r="1.5" fill="#c8ccc0" opacity="0.9"/>
<circle cx="41.8" cy="25.6" r="1.7" fill="#eae8e4" opacity="0.9"/>
<circle cx="156.3" cy="6.7" r="1.7" fill="#dcdcd6" opacity="0.9"/>
<circle cx="24.1" cy="72.9" r="1.7" fill="#f0f0ec" opacity="0.9"/>
<circle cx="1.5" cy="65.6" r="1.5" fill="#f0f0ec" opacity="0.9"/>
<circle cx="6.5" cy="159.4" r="1.7" fill="#eae8e4" opacity="0.9"/>
<circle cx="37.8" cy="40.5" r="1.5" fill="#dcdcd6" opacity="0.9"/>
<circle cx="37.4" cy="49.4" r="1.9" fill="#eae8e4" opacity="0.9"/>
<circle cx="35.9" cy="25.7" r="1.5" fill="#f0f0ec" opacity="0.9"/>
<circle cx="8.9" cy="67.0" r="1.2" fill="#eae8e4" opacity="0.9"/>
<circle cx="68.1" cy="7.5" r="1.2" fill="#e6e4e0" opacity="0.9"/>
<circle cx="119.7" cy="81.9" r="1.6" fill="#dcdcd6" opacity="0.9"/>
<circle cx="4.3" cy="51.5" r="1.3" fill="#f0f0ec" opacity="0.9"/>
<circle cx="34.4" cy="65.7" r="1.4" fill="#dcdcd6" opacity="0.9"/>
<circle cx="22.9" cy="82.7" r="1.3" fill="#f0f0ec" opacity="0.9"/>
<circle cx="35.5" cy="6.5" r="0.9" fill="#c8ccc0" opacity="0.9"/>
<circle cx="157.1" cy="47.7" r="1.9" fill="#dcdcd6" opacity="0.9"/>
<circle cx="20.2" cy="78.9" r="1.4" fill="#e6e4e0" opacity="0.9"/>
<circle cx="137.5" cy="49.4" r="1.9" fill="#f0f0ec" opacity="0.9"/>
<circle cx="65.7" cy="8.7" r="1.4" fill="#eae8e4" opacity="0.9"/>
<circle cx="144.6" cy="5.0" r="1.1" fill="#f0f0ec" opacity="0.9"/>
<circle cx="141.8" cy="61.1" r="0.9" fill="#dcdcd6" opacity="0.9"/>
<circle cx="110.3" cy="43.7" r="1.4" fill="#f0f0ec" opacity="0.9"/>
<circle cx="25.0" cy="30.8" r="1.2" fill="#dcdcd6" opacity="0.9"/>
<circle cx="38.5" cy="0.1" r="1.5" fill="#c8ccc0" opacity="0.9"/>
<circle cx="1.6" cy="87.5" r="1.8" fill="#eae8e4" opacity="0.9"/>
<circle cx="4.1" cy="128.9" r="1.1" fill="#c8ccc0" opacity="0.9"/>
<circle cx="132.9" cy="25.5" r="1.4" fill="#eae8e4" opacity="0.9"/>
<circle cx="7.5" cy="99.5" r="1.4" fill="#c8ccc0" opacity="0.9"/>
<circle cx="9.6" cy="40.6" r="1.5" fill="#c8ccc0" opacity="0.9"/>
<circle cx="33.8" cy="90.2" r="1.0" fill="#c8ccc0" opacity="0.9"/>
<circle cx="33.1" cy="99.4" r="1.2" fill="#dcdcd6" opacity="0.9"/>
<circle cx="156.8" cy="75.5" r="1.8" fill="#dcdcd6" opacity="0.9"/>
<circle cx="23.2" cy="25.2" r="2.0" fill="#f0f0ec" opacity="0.9"/>
<circle cx="32.0" cy="57.0" r="1.5" fill="#f0f0ec" opacity="0.9"/>
<circle cx="28.4" cy="10.8" r="1.4" fill="#e6e4e0" opacity="0.9"/>
<circle cx="35.7" cy="45.2" r="1.9" fill="#c8ccc0" opacity="0.9"/>
<circle cx="29.0" cy="17.1" r="1.9" fill="#e6e4e0" opacity="0.9"/>
<circle cx="142.5" cy="43.2" r="1.2" fill="#c8ccc0" opacity="0.9"/>
<circle cx="42.5" cy="8.2" r="1.0" fill="#e6e4e0" opacity="0.9"/>
<circle cx="41.4" cy="30.2" r="1.2" fill="#dcdcd6" opacity="0.9"/>
<circle cx="160.1" cy="70.9" r="1.7" fill="#dcdcd6" opacity="0.9"/>
<circle cx="44.4" cy="3.8" r="1.5" fill="#f0f0ec" opacity="0.9"/>
<circle cx="83.3" cy="1.7" r="1.1" fill="#e6e4e0" opacity="0.9"/>
<circle cx="2.8" cy="84.4" r="1.8" fill="#c8ccc0" opacity="0.9"/>
<circle cx="158.8" cy="16.1" r="1.3" fill="#c8ccc0" opacity="0.9"/>
<circle cx="4.8" cy="92.3" r="1.1" fill="#c8ccc0" opacity="0.9"/>
<circle cx="11.7" cy="104.5" r="1.6" fill="#e6e4e0" opacity="0.9"/>
<circle cx="29.4" cy="16.9" r="1.1" fill="#e6e4e0" opacity="0.9"/>
<circle cx="30.2" cy="3.5" r="1.3" fill="#f0f0ec" opacity="0.9"/>
<circle cx="36.1" cy="65.3" r="1.7" fill="#dcdcd6" opacity="0.9"/>
<circle cx="146.8" cy="8.8" r="1.3" fill="#c8ccc0" opacity="0.9"/>
<circle cx="111.4" cy="72.5" r="1.4" fill="#c8ccc0" opacity="0.9"/>
<circle cx="87.6" cy="6.8" r="1.9" fill="#eae8e4" opacity="0.9"/>
<circle cx="150.1" cy="24.3" r="2.0" fill="#eae8e4" opacity="0.9"/>
<circle cx="159.3" cy="64.3" r="1.0" fill="#c8ccc0" opacity="0.9"/>
<circle cx="18.8" cy="29.9" r="1.9" fill="#dcdcd6" opacity="0.9"/>
<circle cx="11.4" cy="139.2" r="1.7" fill="#e6e4e0" opacity="0.9"/>
<circle cx="34.2" cy="2.3" r="1.4" fill="#c8ccc0" opacity="0.9"/>
<circle cx="12.8" cy="88.8" r="1.8" fill="#c8ccc0" opacity="0.9"/>
<circle cx="141.3" cy="11.5" r="1.0" fill="#eae8e4" opacity="0.9"/>
<circle cx="156.6" cy="10.5" r="1.8" fill="#dcdcd6" opacity="0.9"/>
<circle cx="17.1" cy="5.9" r="1.3" fill="#dcdcd6" opacity="0.9"/>
<circle cx="69.9" cy="2.5" r="1.3" fill="#e6e4e0" opacity="0.9"/>
<circle cx="28.4" cy="92.9" r="0.9" fill="#e6e4e0" opacity="0.9"/>
<circle cx="132.2" cy="65.4" r="1.5" fill="#f0f0ec" opacity="0.9"/>
<circle cx="38.6" cy="92.7" r="1.2" fill="#e6e4e0" opacity="0.9"/>
<circle cx="153.3" cy="12.5" r="1.1" fill="#c8ccc0" opacity="0.9"/>
<circle cx="11.3" cy="67.1" r="1.2" fill="#c8ccc0" opacity="0.9"/>
<circle cx="106.9" cy="2.0" r="0.9" fill="#e6e4e0" opacity="0.9"/>
<circle cx="41.3" cy="67.3" r="1.3" fill="#eae8e4" opacity="0.9"/>
<circle cx="25.9" cy="11.6" r="1.1" fill="#eae8e4" opacity="0.9"/>
<circle cx="160.6" cy="10.6" r="1.3" fill="#dcdcd6" opacity="0.9"/>
<circle cx="128.1" cy="0.6" r="1.7" fill="#e6e4e0" opacity="0.9"/>
<circle cx="18.4" cy="66.1" r="1.5" fill="#f0f0ec" opacity="0.9"/>
<circle cx="125.2" cy="15.1" r="1.5" fill="#f0f0ec" opacity="0.9"/>
<circle cx="15.1" cy="82.0" r="1.2" fill="#dcdcd6" opacity="0.9"/>
<circle cx="40.5" cy="66.2" r="1.0" fill="#dcdcd6" opacity="0.9"/>
<circle cx="17.7" cy="22.0" r="1.9" fill="#eae8e4" opacity="0.9"/>
<circle cx="26.0" cy="85.0" r="0.9" fill="#f0f0ec" opacity="0.9"/>
<circle cx="35.3" cy="85.9" r="1.6" fill="#c8ccc0" opacity="0.9"/>
<circle cx="73.1" cy="7.9" r="1.8" fill="#f0f0ec" opacity="0.9"/>
<circle cx="27.1" cy="61.1" r="1.3" fill="#dcdcd6" opacity="0.9"/>
<circle cx="6.2" cy="57.5" r="1.9" fill="#eae8e4" opacity="0.9"/>
<circle cx="2.1" cy="94.9" r="2.0" fill="#e6e4e0" opacity="0.9"/>
<circle cx="135.4" cy="33.6" r="1.0" fill="#dcdcd6" opacity="0.9"/>
<circle cx="41.3" cy="43.2" r="1.8" fill="#c8ccc0" opacity="0.9"/>
<circle cx="15.4" cy="91.6" r="1.0" fill="#c8ccc0" opacity="0.9"/>
<circle cx="103.8" cy="9.1" r="1.0" fill="#eae8e4" opacity="0.9"/>
<circle cx="14.4" cy="22.2" r="1.3" fill="#f0f0ec" opacity="0.9"/>
<circle cx="34.8" cy="87.5" r="1.8" fill="#c8ccc0" opacity="0.9"/>
<circle cx="12.4" cy="18.5" r="1.8" fill="#eae8e4" opacity="0.9"/>
<circle cx="25.8" cy="43.8" r="1.3" fill="#c8ccc0" opacity="0.9"/>
<circle cx="149.9" cy="32.0" r="1.4" fill="#c8ccc0" opacity="0.9"/>
<circle cx="111.3" cy="62.1" r="1.0" fill="#dcdcd6" opacity="0.9"/>
<circle cx="110.4" cy="72.4" r="1.4" fill="#eae8e4" opacity="0.9"/>
<circle cx="8.2" cy="147.5" r="1.8" fill="#e6e4e0" opacity="0.9"/>
<circle cx="146.5" cy="72.9" r="1.2" fill="#eae8e4" opacity="0.9"/>
<circle cx="17.4" cy="49.0" r="1.8" fill="#f0f0ec" opacity="0.9"/>
<circle cx="40.5" cy="25.0" r="2.0" fill="#eae8e4" opacity="0.9"/>
<circle cx="31.4" cy="26.9" r="2.0" fill="#e6e4e0" opacity="0.9"/>
<circle cx="111.3" cy="58.2" r="1.7" fill="#e6e4e0" opacity="0.9"/>
<circle cx="13.1" cy="4.6" r="1.8" fill="#eae8e4" opacity="0.9"/>
<circle cx="25.3" cy="62.3" r="1.8" fill="#eae8e4" opacity="0.9"/>
<circle cx="42.6" cy="8.7" r="1.9" fill="#e6e4e0" opacity="0.9"/>
<circle cx="13.1" cy="88.0" r="1.5" fill="#f0f0ec" opacity="0.9"/>
<circle cx="49.4" cy="0.4" r="1.9" fill="#f0f0ec" opacity="0.9"/>
<circle cx="32.2" cy="58.8" r="1.3" fill="#dcdcd6" opacity="0.9"/>
<circle cx="10.8" cy="106.6" r="1.0" fill="#f0f0ec" opacity="0.9"/>
<circle cx="109.7" cy="13.8" r="1.6" fill="#dcdcd6" opacity="0.9"/>
<circle cx="5.7" cy="150.4" r="1.9" fill="#f0f0ec" opacity="0.9"/>
<circle cx="22.6" cy="48.0" r="1.3" fill="#e6e4e0" opacity="0.9"/>
<circle cx="4.2" cy="78.4" r="1.5" fill="#eae8e4" opacity="0.9"/>
<circle cx="150.3" cy="13.8" r="2.0" fill="#f0f0ec" opacity="0.9"/>
<circle cx="18.5" cy="47.7" r="1.2" fill="#f0f0ec" opacity="0.9"/>
<circle cx="30.8" cy="96.8" r="1.8" fill="#f0f0ec" opacity="0.9"/>
<circle cx="1.1" cy="10.9" r="1.8" fill="#c8ccc0" opacity="0.9"/>
<circle cx="56.5" cy="2.4" r="1.7" fill="#e6e4e0" opacity="0.9"/>
<circle cx="8.7" cy="59.2" r="1.7" fill="#eae8e4" opacity="0.9"/>
<circle cx="41.5" cy="76.6" r="1.8" fill="#e6e4e0" opacity="0.9"/>
<circle cx="4.6" cy="49.7" r="1.0" fill="#eae8e4" opacity="0.9"/>
<circle cx="3.2" cy="79.8" r="1.3" fill="#f0f0ec" opacity="0.9"/>
<circle cx="11.8" cy="25.6" r="1.4" fill="#dcdcd6" opacity="0.9"/>
<circle cx="150.0" cy="54.7" r="1.1" fill="#e6e4e0" opacity="0.9"/>
<circle cx="20.2" cy="43.7" r="1.9" fill="#f0f0ec" opacity="0.9"/>
<circle cx="105.6" cy="2.6" r="2.0" fill="#eae8e4" opacity="0.9"/>
<circle cx="24.6" cy="75.1" r="1.6" fill="#c8ccc0" opacity="0.9"/>
<circle cx="27.1" cy="27.7" r="1.7" fill="#dcdcd6" opacity="0.9"/>
<circle cx="11.1" cy="3.9" r="1.3" fill="#dcdcd6" opacity="0.9"/>
<circle cx="49.7" cy="6.6" r="1.2" fill="#eae8e4" opacity="0.9"/>
<circle cx="27.6" cy="23.0" r="1.5" fill="#eae8e4" opacity="0.9"/>
<circle cx="147.2" cy="37.3" r="1.8" fill="#dcdcd6" opacity="0.9"/>
<circle cx="150.4" cy="50.2" r="1.3" fill="#e6e4e0" opacity="0.9"/>
<circle cx="111.0" cy="55.5" r="1.4" fill="#eae8e4" opacity="0.9"/>
<circle cx="92.0" cy="9.0" r="1.3" fill="#c8ccc0" opacity="0.9"/>
<circle cx="10.9" cy="22.9" r="0.9" fill="#eae8e4" opacity="0.9"/>
<circle cx="129.0" cy="37.5" r="1.8" fill="#e6e4e0" opacity="0.9"/>
<circle cx="17.4" cy="56.5" r="1.0" fill="#f0f0ec" opacity="0.9"/>
<circle cx="32.4" cy="34.4" r="1.8" fill="#e6e4e0" opacity="0.9"/>
<circle cx="129.2" cy="28.2" r="1.2" fill="#dcdcd6" opacity="0.9"/>
<circle cx="8.1" cy="129.4" r="2.0" fill="#e6e4e0" opacity="0.9"/>
<circle cx="109.1" cy="64.0" r="1.9" fill="#dcdcd6" opacity="0.9"/>
<circle cx="10.4" cy="138.8" r="1.7" fill="#f0f0ec" opacity="0.9"/>
<circle cx="4.7" cy="25.8" r="1.8" fill="#dcdcd6" opacity="0.9"/>
<circle cx="37.9" cy="98.9" r="1.0" fill="#dcdcd6" opacity="0.9"/>
<circle cx="151.8" cy="52.9" r="1.9" fill="#e6e4e0" opacity="0.9"/>
<circle cx="10.1" cy="17.5" r="1.1" fill="#c8ccc0" opacity="0.9"/>
<circle cx="11.5" cy="15.5" r="1.7" fill="#f0f0ec" opacity="0.9"/>
<circle cx="41.0" cy="31.9" r="1.5" fill="#dcdcd6" opacity="0.9"/>
<circle cx="149.0" cy="80.0" r="1.5" fill="#c8ccc0" opacity="0.9"/>
<circle cx="18.1" cy="76.0" r="2.0" fill="#f0f0ec" opacity="0.9"/>
<circle cx="89.1" cy="0.3" r="1.4" fill="#eae8e4" opacity="0.9"/>
<circle cx="120.1" cy="64.5" r="1.6" fill="#eae8e4" opacity="0.9"/>
<circle cx="34.3" cy="39.2" r="1.7" fill="#eae8e4" opacity="0.9"/>
<circle cx="4.5" cy="133.6" r="1.7" fill="#eae8e4" opacity="0.9"/>
<circle cx="142.9" cy="41.2" r="1.7" fill="#c8ccc0" opacity="0.9"/>
<circle cx="33.8" cy="69.6" r="1.1" fill="#f0f0ec" opacity="0.9"/>
<circle cx="124.6" cy="72.8" r="1.9" fill="#c8ccc0" opacity="0.9"/>
<circle cx="13.0" cy="36.3" r="1.2" fill="#eae8e4" opacity="0.9"/>
<circle cx="108.0" cy="69.6" r="1.1" fill="#f0f0ec" opacity="0.9"/>
<circle cx="3.7" cy="66.6" r="1.7" fill="#e6e4e0" opacity="0.9"/>
<circle cx="15.5" cy="60.8" r="1.9" fill="#e6e4e0" opacity="0.9"/>
<circle cx="160.0" cy="31.5" r="1.0" fill="#eae8e4" opacity="0.9"/>
<circle cx="9.3" cy="34.5" r="1.6" fill="#f0f0ec" opacity="0.9"/>
<circle cx="113.8" cy="89.8" r="2.0" fill="#dcdcd6" opacity="0.9"/>
<circle cx="82.4" cy="3.4" r="1.7" fill="#e6e4e0" opacity="0.9"/>
<circle cx="13.1" cy="48.1" r="1.7" fill="#e6e4e0" opacity="0.9"/>
<circle cx="4.9" cy="59.9" r="1.6" fill="#dcdcd6" opacity="0.9"/>
<circle cx="34.1" cy="4.1" r="1.9" fill="#f0f0ec" opacity="0.9"/>
<circle cx="119.2" cy="42.3" r="1.7" fill="#f0f0ec" opacity="0.9"/>
<circle cx="5.4" cy="146.8" r="1.8" fill="#e6e4e0" opacity="0.9"/>
<circle cx="36.7" cy="35.6" r="1.6" fill="#dcdcd6" opacity="0.9"/>
<circle cx="29.1" cy="29.2" r="1.6" fill="#dcdcd6" opacity="0.9"/>
<circle cx="77.7" cy="9.5" r="1.4" fill="#f0f0ec" opacity="0.9"/>
<circle cx="8.0" cy="24.4" r="1.6" fill="#f0f0ec" opacity="0.9"/>
<circle cx="3.6" cy="49.7" r="1.6" fill="#e6e4e0" opacity="0.9"/>
<circle cx="28.7" cy="26.0" r="1.0" fill="#eae8e4" opacity="0.9"/>
<circle cx="31.4" cy="87.2" r="1.9" fill="#eae8e4" opacity="0.9"/>
<circle cx="128.9" cy="71.1" r="1.2" fill="#c8ccc0" opacity="0.9"/>
<circle cx="7.3" cy="73.0" r="1.5" fill="#e6e4e0" opacity="0.9"/>
<circle cx="156.4" cy="87.0" r="1.2" fill="#e6e4e0" opacity="0.9"/>
<circle cx="3.1" cy="23.7" r="1.3" fill="#f0f0ec" opacity="0.9"/>
<circle cx="9.9" cy="113.5" r="1.0" fill="#dcdcd6" opacity="0.9"/>
<circle cx="3.9" cy="35.2" r="1.6" fill="#dcdcd6" opacity="0.9"/>
<circle cx="143.6" cy="83.7" r="1.1" fill="#dcdcd6" opacity="0.9"/>
<circle cx="5.8" cy="26.2" r="1.4" fill="#e6e4e0" opacity="0.9"/>
<circle cx="2.1" cy="109.5" r="1.9" fill="#e6e4e0" opacity="0.9"/>
<circle cx="30.6" cy="79.2" r="2.0" fill="#dcdcd6" opacity="0.9"/>
<circle cx="33.0" cy="13.3" r="1.2" fill="#dcdcd6" opacity="0.9"/>
<circle cx="52.2" cy="1.1" r="1.4" fill="#eae8e4" opacity="0.9"/>
<circle cx="8.8" cy="4.5" r="2.0" fill="#e6e4e0" opacity="0.9"/>
<circle cx="2.8" cy="105.3" r="1.6" fill="#dcdcd6" opacity="0.9"/>
<circle cx="7.9" cy="86.8" r="2.0" fill="#dcdcd6" opacity="0.9"/>
<circle cx="31.3" cy="74.8" r="1.8" fill="#eae8e4" opacity="0.9"/>
<circle cx="144.4" cy="38.6" r="1.1" fill="#f0f0ec" opacity="0.9"/>
<circle cx="23.2" cy="54.8" r="2.0" fill="#f0f0ec" opacity="0.9"/>
<circle cx="29.8" cy="72.0" r="1.4" fill="#f0f0ec" opacity="0.9"/>
<circle cx="28.0" cy="85.7" r="1.3" fill="#dcdcd6" opacity="0.9"/>
<circle cx="16.4" cy="0.9" r="1.2" fill="#eae8e4" opacity="0.9"/>
<circle cx="5.5" cy="129.0" r="1.9" fill="#c8ccc0" opacity="0.9"/>
<circle cx="22.1" cy="61.3" r="1.7" fill="#e6e4e0" opacity="0.9"/>
<circle cx="148.9" cy="17.2" r="1.2" fill="#e6e4e0" opacity="0.9"/>
<circle cx="24.0" cy="64.6" r="1.5" fill="#dcdcd6" opacity="0.9"/>
<circle cx="5.8" cy="29.9" r="1.5" fill="#eae8e4" opacity="0.9"/>
<circle cx="32.8" cy="89.1" r="1.3" fill="#f0f0ec" opacity="0.9"/>
<circle cx="5.3" cy="69.0" r="1.9" fill="#c8ccc0" opacity="0.9"/>
<circle cx="29.5" cy="74.1" r="1.4" fill="#c8ccc0" opacity="0.9"/>
<circle cx="126.0" cy="86.2" r="1.9" fill="#dcdcd6" opacity="0.9"/>
<circle cx="21.1" cy="95.8" r="1.7" fill="#c8ccc0" opacity="0.9"/>
<circle cx="6.7" cy="73.5" r="1.8" fill="#e6e4e0" opacity="0.9"/>
<circle cx="5.8" cy="25.9" r="1.0" fill="#eae8e4" opacity="0.9"/>
<circle cx="148.0" cy="59.7" r="1.3" fill="#c8ccc0" opacity="0.9"/>
<circle cx="157.0" cy="45.9" r="1.6" fill="#c8ccc0" opacity="0.9"/>
<circle cx="34.8" cy="70.6" r="1.8" fill="#c8ccc0" opacity="0.9"/>
<circle cx="82.7" cy="9.4" r="1.0" fill="#eae8e4" opacity="0.9"/>
<path d="M97,86 L110,90 Q128,96 142,106 Q155,116 159,128 L161,140 V162 H96 Z" fill="#3c4864"/>
<path d="M104,90.5 Q116,95 130,101 Q146,109 155,121 L157.5,136 Q150,125 140,118 Q126,112.5 113,113.5 Z" fill="#66503f" filter="url(#b05)"/>
<path d="M97,86 L112,92 L114,113 Q110,128 104,140 L100,162 L97,162 Z" fill="#344062"/>
<path d="M113.5,106 Q111,130 103,150 L101,162" stroke="#4a3a30" stroke-width="1.2" fill="none"/>
<path d="M8,162 L9,150 Q11,138 14,130 Q18,118 26,110 Q36,103 48,99 L55,97.5 L57,100 L47,162 Z" fill="#36425c"/>
<path d="M14,133 Q17,119 25,111 Q34,104 46,100 L54,97.5 L55,100.5 Q44,103 36,107.5 Q28,113 22,123 L19,133 Z" fill="#5e4a3c" filter="url(#b05)"/>
<path d="M33,107.5 Q44,102 55.5,99.5 L53,115 L48,136 L44,124 Q39,113 33,107.5 Z" fill="#2f3b57"/>
<path d="M55,98 L86,92 Q95,87 100,87 L105,104 L106,124 L101,162 H46 L48,136 L53,115 Z" fill="#dcdcdb"/>
<g stroke="#c2c5ca" stroke-width="0.9" filter="url(#b05)"><path d="M52,125 V160"/><path d="M58,128 V160"/><path d="M64,131 V160"/><path d="M70,134 V160"/><path d="M82,132 V160"/><path d="M88,128 V160"/><path d="M95,124 V160"/></g>
<path d="M58,99 Q70,103 82,100 Q90,96 94,90 L96,92 Q96,108 88,118 Q82,124 76.5,127 Q70,118 64,110 Z" fill="#b37a68"/>
<path d="M92,90 L99,87.5 L104.5,103.5 L106.3,121 L91,119 Q88,118 88,117 Q95,106 94,92 Z" fill="#ebebea"/>
<path d="M55.5,99.5 Q58,100 60,101 Q66,113 75,128.5 L64,119.5 L53,116 Z" fill="#e9e9e7"/>
<path d="M45,52 Q44,40 47,33 Q52,20 62,15 Q70,12.5 78,12.8 Q90,14 97,20 Q104,28 105,38 Q107,47 105.5,55 L100.5,57 Q98.5,48 97.5,44 Q96,36 94,33 Q88,27 76,24 Q62,26 57,29 Q50,33 48,36 Q46,44 46.5,52 Z" fill="#c8c8c5" filter="url(#b05)"/>
<path d="M46.5,50 Q46,40 48,36 Q52,31 58,29 Q68,24.5 76,24 Q88,26.5 94,33 Q97,38 97.5,46 Q99,52 100,62 L99.5,75 Q96,95 85,100 L62,100 Q49,92 47,75 Z" fill="#bf8877"/>
<ellipse cx="103.3" cy="61" rx="4" ry="10" fill="#c08272"/>
<ellipse cx="102.5" cy="61" rx="1.8" ry="6" fill="#a86d60" filter="url(#b05)"/>
<ellipse cx="73" cy="34" rx="15" ry="5" fill="#c89686" filter="url(#b2)"/>
<g fill="#9e6a5e" opacity="0.7" filter="url(#b1)"><ellipse cx="57" cy="49" rx="6.5" ry="3.2"/><ellipse cx="79.5" cy="48" rx="6.5" ry="3.2"/></g>
<g fill="#6e4c44" filter="url(#b05)"><ellipse cx="56.5" cy="44.9" rx="5.5" ry="1.4"/><ellipse cx="78.8" cy="43.3" rx="6.5" ry="1.4"/></g>
<g fill="#3e3030" filter="url(#b05)"><ellipse cx="56.6" cy="49.7" rx="3" ry="1.4"/><ellipse cx="79.3" cy="48.4" rx="3" ry="1.4"/></g>
<path d="M66,50 Q65,58 62.5,64 Q64,68 68,67.5 Q72,68 73.5,64.5 Q71,58 69.5,50 Z" fill="#b47a6a" filter="url(#b1)"/>
<g fill="#7a4c44" opacity="0.7" filter="url(#b05)"><ellipse cx="64.5" cy="66" rx="1.8" ry="0.9"/><ellipse cx="71.5" cy="66" rx="1.8" ry="0.9"/></g>
<path d="M47,66 Q50,68 56,69 Q64,67.5 70,68.5 Q78,67 86,68 Q94,66 99.3,63.5 Q99,74 98.5,77 Q97,86 95.8,86.2 Q92,92 88.9,94.9 Q83,99 77.5,101 Q72,103 68.8,102.8 Q62,101 57.5,97.5 Q53,94 51.3,90.5 Q47,80 47,66 Z" fill="#d3d0cb" filter="url(#b05)"/>
<g fill="#a9a49f" opacity="0.45" filter="url(#b2)"><ellipse cx="60" cy="88" rx="4" ry="5"/><ellipse cx="86" cy="84" rx="4" ry="6"/><ellipse cx="73" cy="95" rx="6" ry="3"/></g>
<path d="M56,71 Q68,68 82,71.5 Q76,74 68,73.5 Q60,74 56,71 Z" fill="#dedbd6" filter="url(#b05)"/>
<path d="M60,76.2 Q70,74.5 80,75.7 Q76,78.8 70,79 Q63,78.8 60,76.2 Z" fill="#a56a62" filter="url(#b05)"/>
</g></g>

<!-- Title -->
<rect x="201.4" y="0.3" width="472.2" height="120" rx="17" fill="#cce5ff" stroke="#4a4a4a" stroke-width="1"/>
<text x="233" y="41.2" font-size="22.37" font-weight="bold" fill="#000">Fließkraft-Rohrbypasskraftwerk-Hoyer</text>
<text x="250.6" y="93.6" font-size="22.37" font-weight="bold" fill="#000">Fluss-Rohrbypasskraftwerk-Hoyer</text>

<!-- circle 7 -->
<circle cx="737" cy="24.4" r="24" fill="#b1ddf0" stroke="#10739e" stroke-width="1"/>
<text x="737" y="31.5" font-size="20" font-weight="bold" text-anchor="middle">7</text>

<!-- right panel -->
<rect x="561.3" y="128.5" width="239.8" height="703.7" rx="37" fill="#dae8fc" stroke="#7b9bc8" stroke-width="1"/>

<!-- Einfluss box -->
<rect x="1.3" y="184.4" width="544" height="47.9" rx="7" fill="#b0e3e6" stroke="#0e8088" stroke-width="1"/>
<text font-size="15.2" fill="#0b0b3b"><tspan x="9" y="203.9">Einfluss des Wassers über Rohrleitung 7 geschlitzter Teilbereich im Fluss oder</tspan><tspan x="74" y="221.5">großen Bach. Der Anfang der Rohrleitung ist verschlossen.</tspan></text>


<!-- Draufsicht -->
<rect x="61.5" y="256.5" width="192" height="40" fill="#fff" stroke="#2a2a2a" stroke-width="1"/>
<text font-size="12.8" fill="#000"><tspan x="72.1" y="272.8">Draufsicht mit Varianten eines</tspan><tspan x="64.9" y="289">Fließgewässers,Fluss, Bach etc.</tspan></text>

<!-- yellow -->
<rect x="72.8" y="312.2" width="168.8" height="56.2" rx="10" fill="#fff2cc" stroke="#d6b656" stroke-width="1.1"/>
<text font-size="11.25" fill="#1a1a1a" text-anchor="middle"><tspan x="157" y="329.8">Rohrleitung anfänglich geschlitzt</tspan><tspan x="157" y="343.9">mit Steg innen nach Erfindung</tspan><tspan x="157" y="357.8">von Eric Hoyer</tspan></text>

<!-- orange -->
<rect x="2" y="384.3" width="223.6" height="48.1" rx="9" fill="#ffcc99" stroke="#4a4a4a" stroke-width="1"/>
<text font-size="11.25" fill="#1a1a1a" text-anchor="middle"><tspan class="pre" x="113" y="397.8">Gefälle  z. B.  ab 0,70 m u. mehr</tspan><tspan x="113" y="412.1">im Bereich wie so oft werden günstige</tspan><tspan x="108" y="425.9">landschaftliche Gefälle ausgenutzt</tspan></text>

<!-- Hoyer-Turbine big -->
<rect x="49.1" y="440.1" width="136.4" height="24" rx="5" fill="#b0e3e6" stroke="#0e8088" stroke-width="1"/>
<text x="117" y="455.9" font-size="13.8" text-anchor="middle" fill="#1a1a1a">Hoyer-Turbine</text>
<!-- Ausfluss -->
<rect x="49.1" y="472.3" width="124.5" height="15.9" rx="4" fill="#b0e3e6" stroke="#0e8088" stroke-width="1"/>
<text x="111" y="483.9" font-size="11.2" text-anchor="middle" fill="#1a1a1a">Ausfluss</text>

<!-- Fluss o. großer Bach -->
<rect x="1.6" y="512.5" width="95.6" height="31.4" rx="4" fill="#b0e3e6" stroke="#0e8088" stroke-width="1"/>
<text font-size="12" text-anchor="middle" fill="#1a1a1a"><tspan x="49" y="525.7">Fluss o. großer</tspan><tspan x="47.3" y="539.5">Bach</tspan></text>

<!-- Fließrichtung arrow -->
<path d="M144.8,507.9 L160.6,489.3 L160.6,502.2 L225.1,502.2 L225.1,513.7 L160.6,513.7 L160.6,527.4 Z" fill="#b0e3e6" stroke="#0e8088" stroke-width="1"/>
<text x="185" y="510.8" font-size="9.7" text-anchor="middle" fill="#1a1a1a">Fließrichtung</text>

<!-- Seite 2 box -->
<rect x="1.2" y="560.5" width="544.3" height="199.4" rx="30" fill="#dae8fc" stroke="#7b9bc8" stroke-width="1"/>
<text font-size="13.6" fill="#111">
<tspan x="21.3" y="573.9">Seite 2.</tspan>
<tspan x="2.6" y="591.1">Die Kosten meiner Bauwerke und Rohrleitungen mit Hoyer-Turbine sind bis zu 80 %</tspan>
<tspan x="2.6" y="607.4">günstiger als übliche Bauwerke.</tspan>
<tspan x="2.6" y="623.8">sins auch unter Rohrbypasskraftwerk-Hoyer auch Rohrkraftwerke-Hoyer, Rohrsysteme-</tspan>
<tspan class="pre" x="2.6" y="640.1">Hoyer benannt, sind Innovationen für Wasserkraftwerke und  Querbauwerke, oder nur im</tspan>
<tspan class="pre" x="2.6" y="656.4">Fluss, Bach, wo auch immer  möglich ! Geeignet für Talsperre und Talsperrenmauer</tspan>
<tspan x="2.6" y="672.7">meines neuen Typs-Hoyer der frühen Stromerzeugung.</tspan>
<tspan x="2.6" y="689.0">Die Kosten sind bis zu 80 % günstiger als übliche Verfahren und Bauwerke.</tspan>
<tspan x="2.6" y="721.7">Eric Hoyer</tspan>
<tspan x="2.6" y="754.3">- 26.06.2023, nur Text, B, 05.07.2023, <tspan font-weight="bold">29.02.2024</tspan> -</tspan>
</text>

<!-- bottom box -->
<rect x="9" y="776.2" width="536.2" height="55.8" rx="7" fill="#b0e3e6" stroke="#0e8088" stroke-width="1"/>
<text font-size="15.2" fill="#111" text-anchor="middle" x="277" y="792.8">Fluss-Rohrbypasskraftwerk-Hoyer</text>
<text font-size="12.85" fill="#111" text-anchor="middle" x="277" y="809.4">- 25.06.2023, 11:14 h; 26.06.2023,11:40 h B, <tspan font-weight="bold" font-size="14.5">29..02.2024 07:50 h</tspan> -</text>
<text font-size="12.85" fill="#111" text-anchor="middle" x="277" y="825.2">Eric Hoyer</text>

<!-- Variante box -->
<rect x="472.8" y="336.1" width="72.8" height="48.4" rx="8" fill="#b0e3e6" stroke="#0e8088" stroke-width="1"/>
<text font-size="11.15" text-anchor="middle" fill="#1a1a1a"><tspan x="509" y="349.9">Variante</tspan><tspan x="509" y="364">Rohrsystem-</tspan><tspan x="509" y="377.8">Hoyer</tspan></text>
<!-- Hoyer-Turbine small -->
<rect x="472.8" y="412.4" width="72.8" height="24.3" rx="5" fill="#b0e3e6" stroke="#0e8088" stroke-width="1"/>
<text x="509" y="426.8" font-size="9.7" text-anchor="middle" fill="#1a1a1a">Hoyer-Turbine</text>

<!-- right panel text -->
<text font-size="13.6" fill="#111">
<tspan x="570" y="182.4" font-weight="bold">Fluss-Rohrbypasskraftwerk-Hoyer</tspan>
<tspan x="579" y="215.0" font-weight="bold">Wasserkraft-Rohrsystem-Hoyer</tspan>
<tspan x="561.5" y="247.6">Kann zusätzlich bei bestehenden</tspan>
<tspan x="561.5" y="263.9">Wasserkraftwerken hinzugefügt, mit</tspan>
<tspan x="561.5" y="280.2">geringen Kosten oder</tspan>
<tspan x="561.5" y="296.5">extra Rohrkraftwerke-Hoyer optimiert</tspan>
<tspan x="561.5" y="312.8">werden.</tspan>
<tspan x="561.5" y="329.1">Querbauwerk vorhanden, in Flüssen</tspan>
<tspan x="561.5" y="345.4">und Bächen ( laut Ststistik 33.000 in</tspan>
<tspan x="561.5" y="361.7">de), ohne Wasserwerk kann</tspan>
<tspan x="561.5" y="378.0">RohrBypasskraftwerk eingefügt</tspan>
<tspan x="561.5" y="394.3">werden.</tspan>
<tspan x="561.5" y="410.6">Durch die geschlitzte Rohrleitung-</tspan>
<tspan x="561.5" y="426.9">Hoyer, mit oder ohne Steg innen -</tspan>
<tspan x="561.5" y="443.2">meine Erfindung siehe Zeichnung -,</tspan>
<tspan x="561.5" y="459.5">werden Fische geschont und</tspan>
<tspan x="561.5" y="475.8">Materialverfüllungen verhindert,</tspan>
<tspan x="561.5" y="492.1">Turbine geschont.</tspan>
<tspan x="561.5" y="524.7">Die Problematik der stehenden</tspan>
<tspan x="561.5" y="541.0">Wasserqualität und unzureichender</tspan>
<tspan x="561.5" y="557.3">Abflussmöglichkeit und keine</tspan>
<tspan x="561.5" y="573.6">Fischwanderung sind damit gelöst.</tspan>
<tspan x="561.5" y="589.9">Hinweis in meinen Beschreibungen.</tspan>
<tspan x="561.5" y="606.2">Fluss und Bachkraftwerke etc.</tspan>
<tspan x="561.5" y="638.8">Mein Fluss-Rohrbypasskraftwerk-</tspan>
<tspan x="561.5" y="655.1">Hoyer auch Rohrkraftwerke-Hoyer,</tspan>
<tspan x="561.5" y="671.4">Rohrsysteme-Hoyer benannt sind</tspan>
<tspan x="561.5" y="687.7">Innovationen für Wasserkraftwerke</tspan>
<tspan class="pre" x="561.5" y="704.0">und  Querbauwerke, oder nur im Fluss,</tspan>
<tspan x="561.5" y="720.3">Bach, wo auch immer möglich !</tspan>
<tspan x="561.5" y="736.6">Geeignet für meine neue Talsperre und</tspan>
<tspan x="561.5" y="752.9">Talsperrenmauer meines neuen Typs-</tspan>
<tspan x="561.5" y="769.2">Hoyer sowie der frühen</tspan>
<tspan x="561.5" y="785.5">Stromerzeugung.</tspan>
<tspan x="561.5" y="801.8">- Fortsetzung Seite 2.</tspan>
</text>

<!-- DIAGRAM -->
<g id="diagram" fill="none" stroke="#111" stroke-width="0.9">
<path d="M225.6,456.5 L258,380 C259.1,377.5 262.5,369.4 264.9,364.8 C267.3,360.2 269.3,356.7 272.4,352.3 C275.5,347.9 279.8,343.3 283.6,338.6 C287.4,333.9 291.4,328.4 295.0,324.0 C298.6,319.6 302.0,315.6 305.0,312.3 C308.0,309.0 310.2,306.9 313.1,304.2 C316.0,301.5 319.4,298.3 322.5,295.9 C325.6,293.5 328.8,291.6 331.9,289.8 C335.0,288.0 338.6,286.2 341.2,285.0 C343.8,283.8 345.6,283.4 347.5,282.6 C349.4,281.9 351.9,280.9 352.8,280.5" marker-end="url(#ah)"/>
<path d="M241.2,456.5 L273.6,380 C274.3,378.3 275.3,374.2 277.6,369.8 C279.9,365.4 283.8,359.0 287.4,353.6 C291.0,348.2 294.4,342.9 299.0,337.5 C303.6,332.1 309.8,326.1 314.9,321.5 C320.0,316.9 324.9,313.5 329.9,309.7 C334.9,305.9 339.8,302.3 344.9,298.9 C350.0,295.4 357.7,290.6 360.3,289.0" marker-end="url(#ah)"/>
<path d="M296.5,323.5 C295.6,324.8 292.6,327.8 291.0,331.0 C289.4,334.2 287.8,339.0 287.2,343.0 C286.6,347.0 286.4,351.5 287.3,355.0 C288.2,358.5 289.9,361.2 292.4,363.8 C294.9,366.4 298.6,368.1 302.3,370.5 C306.0,372.9 310.0,375.0 314.8,378.2 C319.6,381.4 325.1,386.0 331.0,389.9 C336.9,393.8 342.2,396.8 349.9,401.8 C357.6,406.8 370.2,415.2 377.1,420.0 C384.0,424.8 386.7,426.7 391.1,430.5 C395.5,434.3 400.5,439.1 403.3,442.7 C406.1,446.3 407.7,449.7 407.7,452.3 C407.7,454.9 406.1,456.8 403.3,458.4 C400.5,460.0 397.5,461.0 391.1,461.9 C384.7,462.8 371.8,463.6 364.9,464.0 C358.0,464.4 355.9,464.1 350.0,464.2 C344.1,464.3 336.1,464.3 329.6,464.6 C323.1,464.9 316.6,465.3 311.0,465.9 C305.4,466.5 300.1,467.1 296.0,468.3 C291.9,469.5 289.7,471.3 286.6,473.2 C283.5,475.1 282.9,478.2 277.2,479.6 C271.5,481.0 259.8,480.8 252.4,481.4 C245.0,482.0 236.2,482.9 233.0,483.2 L216,485 L97.2,496.3" />
<path d="M97.9,535.0 C104.1,534.0 124.2,530.3 134.9,528.7 C145.6,527.1 152.5,526.1 161.8,525.3 C171.2,524.5 182.0,523.8 191.0,523.7 C200.0,523.6 209.3,525.2 215.7,524.8 C222.0,524.4 223.9,523.9 229.1,521.5 C234.3,519.1 242.4,513.1 247.1,510.7 C251.8,508.2 254.8,507.0 257.5,506.8 C260.2,506.6 261.4,508.5 263.5,509.3 C265.6,510.1 267.6,511.2 270.0,511.6 C272.4,512.0 273.3,512.3 277.9,511.8 C282.4,511.3 290.8,510.0 297.3,508.4 C303.8,506.8 311.8,504.0 316.8,502.4 C321.8,500.8 323.7,499.6 327.3,498.6 C330.9,497.6 332.4,496.9 338.7,496.5 C345.0,496.1 351.8,495.9 364.9,495.9 C378.0,495.9 406.2,496.5 417.3,496.3 C428.4,496.1 426.8,495.8 431.2,494.7 C435.6,493.6 440.0,491.8 443.5,489.8 C447.0,487.8 450.2,485.1 452.2,482.8 C454.2,480.5 455.0,478.8 455.3,475.9 C455.6,473.0 454.8,468.9 453.9,465.4 C452.9,461.9 450.3,456.6 449.6,454.9" />
<path d="M352.8,280.5 C380,271 440,260 528.6,248.5" marker-end="url(#ah)"/>
<path d="M297,328.5 L345.5,288.2" />
<path d="M294.0,325.5 C295.5,324.1 300.3,319.6 303.0,317.3 C305.7,315.0 307.3,314.0 310.0,311.8 C312.7,309.6 316.3,306.7 319.4,304.4 C322.5,302.1 325.6,300.0 328.7,297.8 C331.8,295.6 335.0,293.5 338.1,291.3 C341.2,289.1 345.3,286.3 347.5,284.7 C349.7,283.1 350.8,282.1 351.5,281.6" />
<path d="M291,326.6 L341,291.9" stroke-width="1.6" stroke-dasharray="1.4 4.9"/>
<path d="M313,352.3 L352.9,383.6" marker-end="url(#ah)"/>
<path d="M241.6,352.2 L272.6,352.2" marker-end="url(#ah)"/>
<path d="M329,232.4 L329,295" stroke="#6e6e6e" stroke-width="1.3" marker-end="url(#ah)"/>
<path d="M25.1,240.3 L21.5,382.8" stroke="#6e6e6e" stroke-width="1.3" marker-end="url(#ah)"/>
<path d="M22,488.4 L22,436.8" stroke="#808080" stroke-width="1.6" marker-end="url(#ah)"/>
<path d="M170,464.3 L209,464.3" marker-end="url(#ah)"/>
<path d="M177.5,480.2 L217.2,480.2" marker-end="url(#ah)"/>
<path d="M91.1,527.5 L136,512.5" marker-start="url(#ah)" marker-end="url(#ah)"/>
<path d="M451.4,371.5 L472.8,372" marker-end="url(#ah)"/>
</g>
<!-- dotted orange lines -->
<line x1="1.9" y1="240.3" x2="522" y2="240.3" stroke="#a85a08" stroke-width="2" stroke-linecap="round" stroke-dasharray="0.01 6.4"/>
<line x1="1.9" y1="488.6" x2="559" y2="496.3" stroke="#a85a08" stroke-width="2" stroke-linecap="round" stroke-dasharray="0.01 6.4"/>

<!-- turbine 1 -->
<rect x="209" y="456.3" width="32.5" height="16.2" fill="url(#tg)" stroke="#666" stroke-width="1"/>
<path d="M212.5,456.3 V472.5 M238,456.3 V472.5" stroke="#666" stroke-width="1" fill="none"/>
<!-- small circle -->
<circle cx="225.3" cy="480.5" r="8" fill="#b1ddf0" stroke="#10739e" stroke-width="1"/>
<!-- cylinder -->
<path d="M432.5,284.3 V468.4 A8.5,4 0 0 0 449.5,468.4 V284.3 Z" fill="#b0e3e6" stroke="#0e8088" stroke-width="1"/>
<ellipse cx="441" cy="284.3" rx="8.5" ry="4" fill="#b0e3e6" stroke="#0e8088" stroke-width="1"/>
<!-- turbine 2 -->
<rect x="425.1" y="416.3" width="32.4" height="16.3" fill="url(#tg)" stroke="#666" stroke-width="1"/>
<path d="M428.6,416.3 V432.6 M454,416.3 V432.6" stroke="#666" stroke-width="1" fill="none"/>

<g fill="none" stroke="#111" stroke-width="0.9">
<path d="M527.6,258.9 L452.6,273.8 L450.8,265 L450.7,279.8 L456.5,293.4 L454.7,284.6 L529.7,269.6 Z" fill="#b0e3e6" stroke="#0e8088" stroke-width="1"/>
<path d="M434.9,281.1 Q452,276.5 470,272.2 L547.3,258.7 L543,262.4 L546,263.6 L561.3,264" />
<path d="M545,265 L470,278.4 L450.6,284.2" marker-end="url(#ah)"/>
<path d="M456,278.2 L526,264.8" stroke-width="1.7" stroke-dasharray="1.7 4.5"/>
<path d="M465.4,288.3 L544.2,272.6" stroke-width="1.7" stroke-dasharray="1.7 4.5" marker-end="url(#ah)"/>
<path d="M441,424.4 L472.8,424.4" marker-end="url(#ah)"/>
<path d="M424.7,423.5 C422.2,420.9 414.8,412.9 409.8,407.8 C404.8,402.7 399.8,397.4 394.8,392.8 C389.8,388.2 384.9,384.4 379.9,380.3 C374.9,376.2 369.9,371.9 364.9,368.2 C359.9,364.5 354.8,361.3 350.0,358.3 C345.2,355.3 339.8,352.6 336.0,350.2 C332.2,347.8 329.1,345.9 327.0,343.8 C324.9,341.7 323.6,339.4 323.3,337.5 C323.1,335.6 324.4,334.1 325.5,332.5 C326.6,330.9 328.2,329.6 330.0,328.0 C331.8,326.4 334.2,324.4 336.5,322.8 C338.8,321.2 341.4,319.9 343.6,318.6 C345.8,317.3 346.2,316.5 349.8,314.9 C353.4,313.3 360.0,310.8 365.0,308.9 C370.0,307.0 373.4,305.7 380.0,303.6 C386.6,301.5 397.4,298.3 404.9,296.1 C412.4,293.9 420.4,291.8 425.0,290.4 C429.6,289.0 430.5,289.2 432.4,288.0 C434.3,286.8 435.8,284.0 436.5,283.2" marker-end="url(#ah)"/>
</g>

</svg>
</body></html>
